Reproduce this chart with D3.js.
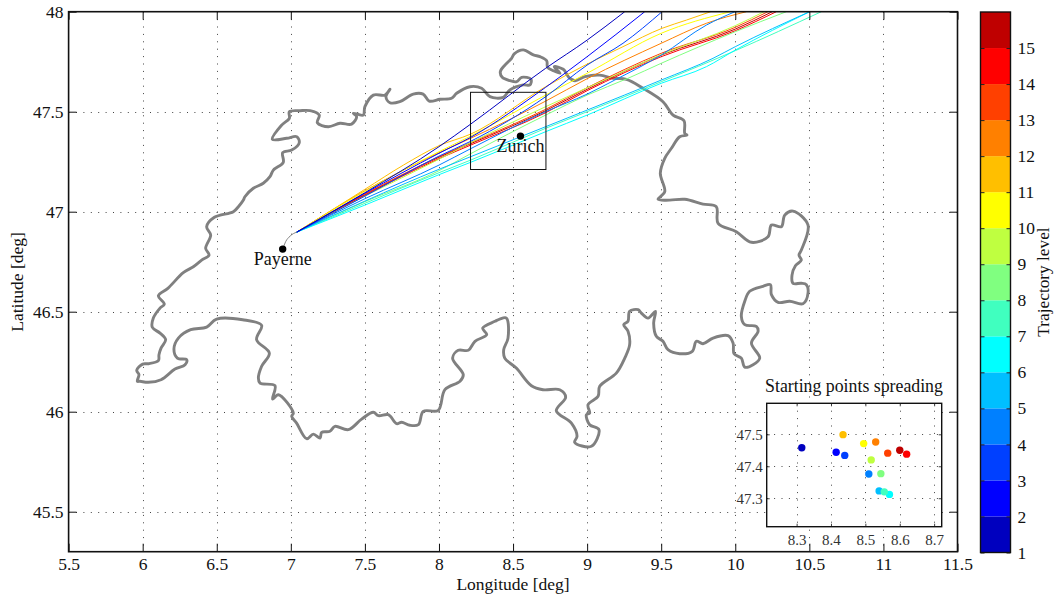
<!DOCTYPE html>
<html><head><meta charset="utf-8">
<script src="https://cdn.jsdelivr.net/npm/d3@7"></script>
<style>html,body{margin:0;padding:0;background:#fff}text{font-family:"Liberation Serif",serif;fill:#111}</style>
</head><body><svg id="c" width="1057" height="601"></svg>
<script>
const levels=[1,2,3,4,5,6,7,8,9,10,11,12,13,14,15];
const levelColors=["#0000bf","#0000ff","#0040ff","#0080ff","#00bfff","#00ffff","#40ffbf","#80ff80","#bfff40","#ffff00","#ffbf00","#ff8000","#ff4000","#ff0000","#bf0000"];
const xTicks=[5.5,6,6.5,7,7.5,8,8.5,9,9.5,10,10.5,11,11.5];
const yTicks=[45.5,46,46.5,47,47.5,48];
const insetXTicks=[8.3,8.4,8.5,8.6,8.7];
const insetYTicks=[47.3,47.4,47.5];
const startLon=[8.315,8.415,8.44,8.51,8.54,8.57,8.555,8.545,8.517,8.495,8.435,8.53,8.565,8.62,8.6];
const startLat=[47.458,47.444,47.434,47.376,47.323,47.312,47.32,47.377,47.42,47.471,47.499,47.476,47.441,47.438,47.45];
const places=[{name:"Payerne",lon:6.945,lat:46.813},{name:"Zurich",lon:8.55,lat:47.378}];
const departure=[[6.945,46.813],[6.965,46.85],[6.995,46.878],[7.04,46.898]];
const zoomBox={lon:[8.213,8.722],lat:[47.211,47.597]};
const trajectories=[
[[7.04,46.898],[7.5,47.095],[8,47.325],[8.214,47.438],[8.72,47.717],[9,47.858],[9.254,48]],
[[7.04,46.898],[7.5,47.092],[8,47.292],[8.214,47.372],[8.72,47.622],[9,47.775],[9.389,48]],
[[7.04,46.898],[7.5,47.078],[8,47.278],[8.214,47.352],[8.72,47.575],[9,47.733],[9.242,47.842],[9.506,48]],
[[7.04,46.898],[7.5,47.065],[8,47.233],[8.214,47.315],[8.72,47.5],[9,47.588],[9.186,47.658],[9.5,47.783],[9.805,47.933],[9.998,48]],
[[7.04,46.898],[7.5,47.053],[8,47.212],[8.214,47.275],[8.72,47.425],[9,47.508],[9.5,47.658],[9.85,47.767],[10,47.825],[10.502,48]],
[[7.04,46.898],[7.5,47.033],[8,47.185],[8.214,47.247],[8.72,47.4],[9,47.483],[9.5,47.642],[9.805,47.725],[10,47.808],[10.502,48]],
[[7.04,46.898],[7.5,47.042],[8,47.195],[8.214,47.258],[8.72,47.417],[9,47.5],[9.5,47.65],[10,47.805],[10.581,48]],
[[7.04,46.898],[7.5,47.05],[8,47.205],[8.214,47.29],[8.72,47.483],[9,47.583],[9.276,47.667],[9.5,47.742],[10,47.9],[10.345,48]],
[[7.04,46.898],[7.5,47.078],[8,47.262],[8.214,47.345],[8.72,47.525],[9.197,47.685],[9.5,47.785],[10,47.93],[10.194,48]],
[[7.04,46.898],[7.5,47.102],[8,47.3],[8.214,47.378],[8.72,47.583],[9,47.692],[9.5,47.892],[9.967,48]],
[[7.04,46.898],[7.5,47.112],[7.76,47.233],[8,47.33],[8.214,47.388],[8.72,47.625],[9,47.738],[9.242,47.825],[9.506,47.917],[9.67,47.958],[9.834,48]],
[[7.04,46.898],[7.5,47.105],[8,47.295],[8.214,47.367],[8.72,47.553],[9,47.665],[9.5,47.842],[9.805,47.942],[10.075,48]],
[[7.04,46.898],[7.5,47.088],[8,47.275],[8.214,47.345],[8.72,47.512],[9,47.62],[9.5,47.792],[10,47.922],[10.22,48]],
[[7.04,46.898],[7.5,47.082],[8,47.265],[8.214,47.333],[8.72,47.495],[9,47.605],[9.5,47.775],[10,47.905],[10.277,48]],
[[7.04,46.898],[7.5,47.085],[8,47.272],[8.214,47.34],[8.72,47.505],[9,47.612],[9.5,47.783],[10,47.913],[10.25,48]]
];
const borderWest=[[5.964,46.152],[5.975,46.185],[5.96,46.207],[6,46.238],[6.04,46.24],[6.106,46.255],[6.11,46.285],[6.124,46.318],[6.155,46.36],[6.117,46.393],[6.065,46.422],[6.072,46.468],[6.117,46.518],[6.146,46.538],[6.106,46.58],[6.17,46.617],[6.274,46.695],[6.342,46.725],[6.398,46.758],[6.448,46.783],[6.425,46.817],[6.459,46.883],[6.432,46.925],[6.484,46.972],[6.612,47],[6.646,47.025],[6.68,47.058],[6.69,47.075],[6.747,47.117],[6.814,47.142],[6.859,47.175],[6.882,47.208],[6.949,47.247],[6.945,47.295],[7.006,47.308],[7.057,47.345],[7.04,47.375],[6.972,47.367],[6.875,47.362],[6.938,47.433],[6.99,47.467],[6.99,47.5]];
const borderNorth=[[7.062,47.505],[7.13,47.505],[7.192,47.483],[7.179,47.445],[7.253,47.425],[7.332,47.442],[7.41,47.438],[7.444,47.475],[7.422,47.492],[7.489,47.483],[7.5,47.525],[7.557,47.583],[7.636,47.583],[7.669,47.612],[7.642,47.575],[7.669,47.545],[7.736,47.55],[7.826,47.588],[7.893,47.588],[7.934,47.553],[8.007,47.562],[8.085,47.567],[8.119,47.592],[8.209,47.625],[8.288,47.617],[8.344,47.575],[8.434,47.572],[8.479,47.609],[8.569,47.634],[8.614,47.634],[8.621,47.662],[8.558,47.672],[8.524,47.65],[8.479,47.655],[8.427,47.672],[8.414,47.7],[8.445,47.733],[8.49,47.767],[8.508,47.789],[8.569,47.809],[8.637,47.784],[8.682,47.775],[8.727,47.755],[8.733,47.722],[8.772,47.705],[8.817,47.692],[8.778,47.725],[8.839,47.712],[8.877,47.672],[8.918,47.655],[8.985,47.675],[9.085,47.683],[9.175,47.667],[9.265,47.662],[9.377,47.617],[9.512,47.55],[9.58,47.483],[9.654,47.455],[9.659,47.392],[9.674,47.383],[9.625,47.375],[9.569,47.317],[9.524,47.267],[9.494,47.192],[9.524,47.1],[9.479,47.062]];
const borderEast=[[9.557,47.058],[9.659,47.062],[9.782,47.038],[9.872,47.025],[9.884,46.942],[10.007,46.9],[10.109,46.847],[10.221,46.875],[10.244,46.933],[10.311,46.925],[10.334,46.983],[10.39,47.003],[10.491,46.933],[10.446,46.808],[10.43,46.783],[10.446,46.758],[10.406,46.73],[10.383,46.683],[10.39,46.642],[10.446,46.642],[10.48,46.635],[10.491,46.593],[10.457,46.54],[10.367,46.552],[10.289,46.547],[10.244,46.585],[10.237,46.635],[10.187,46.627],[10.097,46.602],[10.064,46.552],[10.041,46.477],[10.064,46.435],[10.142,46.427],[10.154,46.402],[10.109,46.343],[10.165,46.268],[10.12,46.235],[10.064,46.223],[10.041,46.268],[9.992,46.29],[9.985,46.343],[9.951,46.38]];
const borderSouth=[[9.85,46.368],[9.782,46.34],[9.737,46.352],[9.71,46.302],[9.625,46.29],[9.546,46.31],[9.512,46.352],[9.467,46.377],[9.449,46.443],[9.461,46.502],[9.411,46.468],[9.366,46.493],[9.344,46.51],[9.287,46.502],[9.276,46.452],[9.247,46.435],[9.276,46.402],[9.287,46.335],[9.254,46.268],[9.197,46.193],[9.085,46.127],[9.074,46.077],[9.006,46.035],[9.017,45.993],[8.995,45.985],[9.017,45.935],[9.08,45.91],[9.029,45.827],[8.916,45.847],[8.932,45.877],[8.894,45.943],[8.792,46.005],[8.855,46.073],[8.815,46.11],[8.702,46.11],[8.624,46.13],[8.522,46.218],[8.444,46.268],[8.437,46.31],[8.466,46.368],[8.455,46.468],[8.41,46.463],[8.378,46.452],[8.295,46.418],[8.322,46.385],[8.243,46.352],[8.198,46.307],[8.13,46.307],[8.092,46.268],[8.164,46.185],[8.142,46.152],[8.04,46.11],[7.995,46.007],[7.894,46.002],[7.861,45.935],[7.804,45.932],[7.748,45.947],[7.714,45.94],[7.658,45.985],[7.591,45.98],[7.557,45.997],[7.478,45.963],[7.388,45.91],[7.298,45.927],[7.264,45.902],[7.208,45.897],[7.197,45.868],[7.152,45.888],[7.107,45.865],[7.039,45.943],[7.006,45.977],[7.017,45.993],[6.916,46.085],[6.877,46.063],[6.893,46.13],[6.792,46.143],[6.781,46.168],[6.803,46.227],[6.855,46.293],[6.769,46.36],[6.803,46.432],[6.675,46.46],[6.499,46.463],[6.432,46.423],[6.324,46.41],[6.241,46.368],[6.211,46.313],[6.234,46.268],[6.297,46.26],[6.286,46.235],[6.218,46.213],[6.124,46.16],[6.038,46.147],[5.982,46.152]];
const border=[...borderWest,...borderNorth,...borderEast,...borderSouth];

const svg=d3.select("#c");
const x=d3.scaleLinear().domain([5.5,11.5]).range([68.6,957.5]);
const y=d3.scaleLinear().domain([45.3,48]).range([551.7,11.7]);
const fmt=d=>String(+d.toFixed(1));
function frame(g,sx,sy,xt,yt,opt){
  const [x0,x1]=sx.range(),[y1,y0]=sy.range();
  const grid=g.append("g").attr("stroke","#444").attr("stroke-width",1).attr("stroke-dasharray","1 "+opt.gap);
  grid.selectAll(".v").data(xt.filter(d=>sx(d)>x0+1&&sx(d)<x1-1)).join("line").attr("x1",d=>Math.round(sx(d))+.5).attr("x2",d=>Math.round(sx(d))+.5).attr("y1",y0).attr("y2",y1);
  grid.selectAll(".h").data(yt.filter(d=>sy(d)>y0+1&&sy(d)<y1-1)).join("line").attr("y1",d=>Math.round(sy(d))+.5).attr("y2",d=>Math.round(sy(d))+.5).attr("x1",x0).attr("x2",x1);
}
function axes(g,sx,sy,xt,yt,opt){
  const [x0,x1]=sx.range(),[y1,y0]=sy.range();
  const st=a=>{a.selectAll(".domain").remove();a.selectAll("line").attr("stroke","#111").attr("stroke-width",opt.tw);a.selectAll("text").attr("font-size",opt.fs).attr("fill",opt.tc).style("fill",opt.tc)};
  const b=g.append("g").attr("transform",`translate(0,${y1})`).call(d3.axisBottom(sx).tickValues(xt).tickFormat(fmt).tickSizeInner(-opt.tl).tickPadding(opt.padX));st(b);
  const l=g.append("g").attr("transform",`translate(${x0},0)`).call(d3.axisLeft(sy).tickValues(yt).tickFormat(fmt).tickSizeInner(-opt.tl).tickPadding(opt.padY));st(l);
  const t=g.append("g").attr("transform",`translate(0,${y0})`).call(d3.axisTop(sx).tickValues(xt).tickFormat("").tickSizeInner(-opt.tl));st(t);
  const r=g.append("g").attr("transform",`translate(${x1},0)`).call(d3.axisRight(sy).tickValues(yt).tickFormat("").tickSizeInner(-opt.tl));st(r);
  g.append("rect").attr("x",x0).attr("y",y0).attr("width",x1-x0).attr("height",y1-y0).attr("fill","none").attr("stroke","#111").attr("stroke-width",opt.bw);
}
const main=svg.append("g");
frame(main,x,y,xTicks,yTicks,{gap:6.4});
svg.append("clipPath").attr("id","pc").append("rect").attr("x",68.6).attr("y",11.7).attr("width",888.9).attr("height",540);
const plot=main.append("g").attr("clip-path","url(#pc)");
const outline=d3.line().x(d=>x(d[0])).y(d=>y(d[1])).curve(d3.curveCatmullRomClosed.alpha(0.5));
const line=d3.line().x(d=>x(d[0])).y(d=>y(d[1])).curve(d3.curveMonotoneX);
plot.append("path").attr("d",outline(border)).attr("fill","none").attr("stroke","#808080").attr("stroke-width",2.9).attr("stroke-linejoin","round");
plot.append("path").attr("d",line(departure)).attr("fill","none").attr("stroke","#777").attr("stroke-width",.9);
const order=levels.map((_,i)=>i).reverse();
plot.selectAll(".traj").data(order).join("path").attr("d",i=>line(trajectories[i])).attr("fill","none").attr("stroke",i=>levelColors[i]).attr("stroke-width",1);
plot.append("rect").attr("x",x(zoomBox.lon[0])).attr("y",y(zoomBox.lat[1])).attr("width",x(zoomBox.lon[1])-x(zoomBox.lon[0])).attr("height",y(zoomBox.lat[0])-y(zoomBox.lat[1])).attr("fill","none").attr("stroke","#111").attr("stroke-width",1);
plot.selectAll(".pl").data(places).join("circle").attr("cx",d=>x(d.lon)).attr("cy",d=>y(d.lat)).attr("r",3.7).attr("fill","#000");
plot.selectAll(".pt").data(places).join("text").attr("x",d=>x(d.lon)).attr("y",d=>y(d.lat)+16).attr("text-anchor","middle").attr("font-size",18).text(d=>d.name);
axes(main,x,y,xTicks,yTicks,{tl:8,tw:1,bw:1.6,fs:17.5,padX:6,padY:5,tc:"#111"});
main.append("text").attr("x",513).attr("y",590).attr("text-anchor","middle").attr("font-size",17.5).text("Longitude [deg]");
main.append("text").attr("transform","translate(23,282) rotate(-90)").attr("text-anchor","middle").attr("font-size",17.5).text("Latitude [deg]");

// inset
const ix=d3.scaleLinear().domain(zoomBox.lon).range([766.7,941.7]);
const iy=d3.scaleLinear().domain(zoomBox.lat).range([526.7,403.3]);
const inset=svg.append("g");
inset.append("rect").attr("x",766.7).attr("y",403.3).attr("width",175).attr("height",123.4).attr("fill","#fff");
frame(inset,ix,iy,insetXTicks,insetYTicks,{gap:6.4});
inset.selectAll(".d").data(levels.map((_,i)=>i)).join("circle").attr("cx",i=>ix(startLon[i])).attr("cy",i=>iy(startLat[i])).attr("r",3.7).attr("fill",i=>levelColors[i]);
axes(inset,ix,iy,insetXTicks,insetYTicks,{tl:3,tw:.8,bw:1.4,fs:15,padX:8,padY:4,tc:"#333"});
inset.append("text").attr("x",854).attr("y",392).attr("text-anchor","middle").attr("font-size",17.8).text("Starting points spreading");

// colorbar
const cy=d3.scaleLinear().domain([1,16]).range([552.5,12]);
const cb=svg.append("g");
cb.selectAll("rect").data(levels.map((_,i)=>i)).join("rect").attr("x",980.5).attr("width",30).attr("y",i=>cy(levels[i]+1)).attr("height",i=>cy(levels[i])-cy(levels[i]+1)).attr("fill",i=>levelColors[i]);
const cax=cb.append("g").attr("transform","translate(1010.5,0)").call(d3.axisRight(cy).tickValues(levels).tickFormat(d=>d).tickSizeInner(-4).tickPadding(7));
cax.selectAll(".domain").remove();cax.selectAll("line").attr("stroke","#222");cax.selectAll("text").attr("font-size",17.5);
cb.append("g").attr("transform","translate(980.5,0)").call(d3.axisLeft(cy).tickValues(levels).tickFormat("").tickSizeInner(-4)).call(a=>{a.selectAll(".domain").remove();a.selectAll("line").attr("stroke","#222")});
cb.append("rect").attr("x",980.5).attr("y",12).attr("width",30).attr("height",540.5).attr("fill","none").attr("stroke","#111").attr("stroke-width",1.4);
cb.append("text").attr("transform","translate(1049,282) rotate(-90)").attr("text-anchor","middle").attr("font-size",17.3).text("Trajectory level");
</script></body></html>
